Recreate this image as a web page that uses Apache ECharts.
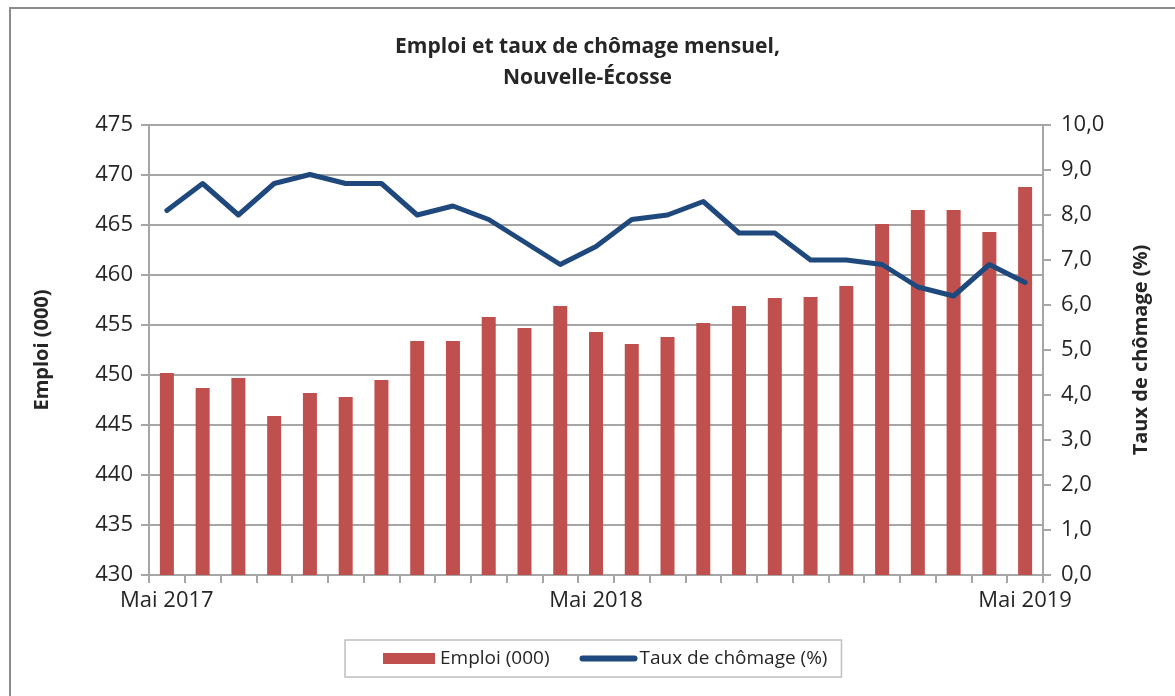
<!DOCTYPE html>
<html>
<head>
<meta charset="utf-8">
<script src="https://cdn.jsdelivr.net/npm/echarts@6/dist/echarts.min.js"></script>
<style>
html,body{margin:0;padding:0;background:#fff;}
#chart{width:1175px;height:696px;}
</style>
</head>
<body>
<div id="chart"></div>
<script>
const months = ['Mai 2017','Juin 2017','Juil. 2017','Août 2017','Sept. 2017','Oct. 2017','Nov. 2017','Déc. 2017',
  'Janv. 2018','Févr. 2018','Mars 2018','Avr. 2018','Mai 2018','Juin 2018','Juil. 2018','Août 2018','Sept. 2018',
  'Oct. 2018','Nov. 2018','Déc. 2018','Janv. 2019','Févr. 2019','Mars 2019','Avr. 2019','Mai 2019'];
const shownLabels = ['Mai 2017','Mai 2018','Mai 2019'];
const emploi = [450.2,448.7,449.7,445.9,448.2,447.8,449.5,453.4,453.4,455.8,454.7,456.9,454.3,
  453.1,453.8,455.2,456.9,457.7,457.8,458.9,465.1,466.5,466.5,464.3,468.8];
const chomage = [8.1,8.7,8.0,8.7,8.9,8.7,8.7,8.0,8.2,7.9,7.4,6.9,7.3,
  7.9,8.0,8.3,7.6,7.6,7.0,7.0,6.9,6.4,6.2,6.9,6.5];
const titleText = 'Emploi et taux de chômage mensuel,\nNouvelle-Écosse';
const leftName = 'Emploi (000)';
const rightName = 'Taux de chômage (%)';

const FONT = 'Open Sans';
const TXT = '#262626';
const GRID = '#a6a6a6';

const chart = echarts.init(document.getElementById('chart'));
chart.setOption({
  backgroundColor: '#fff',
  animation: false,
  textStyle: {fontFamily: FONT, color: TXT},
  graphic: [{
    type: 'rect', silent: true,
    shape: {x: 10, y: 8, width: 1200, height: 700},
    style: {fill: 'none', stroke: '#8c8c8c', lineWidth: 2}
  }],
  title: {
    text: titleText, left: 'center', top: 27,
    textStyle: {fontFamily: FONT, fontSize: 21, fontWeight: 'bold', color: TXT, lineHeight: 31}
  },
  legend: {
    left: 345, top: 640,
    padding: [9, 14, 9, 38],
    borderColor: '#bfbfbf', borderWidth: 1.5,
    itemGap: 30, itemWidth: 52, itemHeight: 11,
    textStyle: {fontFamily: FONT, fontSize: 19, color: TXT},
    data: [
      {name: leftName, icon: 'rect'},
      {name: rightName, itemStyle: {color: 'rgba(0,0,0,0)', borderWidth: 0, opacity: 0},
       lineStyle: {width: 6, color: '#1f497d', cap: 'round'}}
    ]
  },
  grid: {left: 149, right: 132, top: 125, bottom: 121},
  xAxis: {
    type: 'category', data: months, boundaryGap: true,
    axisLine: {lineStyle: {color: GRID, width: 2}},
    axisTick: {show: true, interval: 0, length: 8, lineStyle: {color: GRID, width: 2}},
    axisLabel: {
      interval: 0, margin: 15, fontSize: 22, color: TXT, fontFamily: FONT,
      formatter: v => shownLabels.includes(v) ? v : ''
    }
  },
  yAxis: [{
    type: 'value', min: 430, max: 475, interval: 5,
    name: leftName, nameLocation: 'middle', nameGap: 97, nameRotate: 90,
    nameTextStyle: {fontFamily: FONT, fontSize: 20, fontWeight: 'bold', color: TXT},
    axisLine: {show: true, lineStyle: {color: GRID, width: 2}},
    axisTick: {show: true, length: 8, lineStyle: {color: GRID, width: 2}},
    axisLabel: {fontSize: 22, color: TXT, margin: 16, fontFamily: FONT},
    splitLine: {show: true, lineStyle: {color: GRID, width: 2}}
  }, {
    type: 'value', min: 0, max: 10, interval: 1, position: 'right',
    name: rightName, nameLocation: 'middle', nameGap: 88, nameRotate: 90,
    nameTextStyle: {fontFamily: FONT, fontSize: 20, fontWeight: 'bold', color: TXT},
    axisLine: {show: true, lineStyle: {color: GRID, width: 2}},
    axisTick: {show: true, length: 8, lineStyle: {color: GRID, width: 2}},
    axisLabel: {fontSize: 22, color: TXT, margin: 18, fontFamily: FONT,
      formatter: v => v.toFixed(1).replace('.', ',')},
    splitLine: {show: false}
  }],
  series: [{
    name: leftName, type: 'bar', data: emploi, yAxisIndex: 0,
    barWidth: 14, itemStyle: {color: '#c0504d'}
  }, {
    name: rightName, type: 'line', data: chomage, yAxisIndex: 1,
    symbol: 'none', lineStyle: {color: '#1f497d', width: 5, cap: 'round', join: 'round'},
    itemStyle: {color: '#1f497d'}
  }]
});
</script>
</body>
</html>
